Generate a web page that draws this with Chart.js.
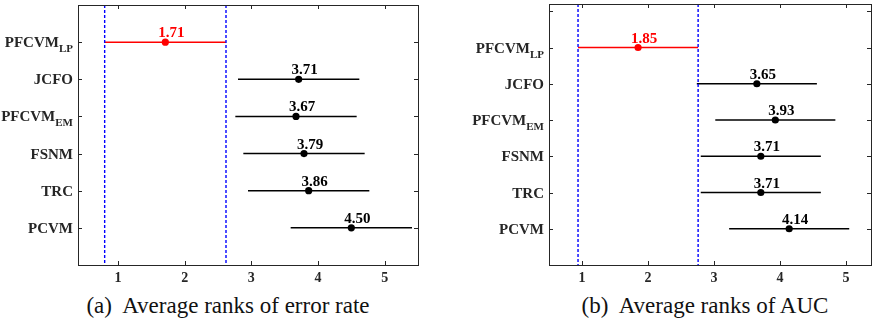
<!DOCTYPE html>
<html>
<head>
<meta charset="utf-8">
<script src="https://cdn.jsdelivr.net/npm/chart.js@4/dist/chart.umd.min.js"></script>
<style>
  body { margin: 0; background: #fff; width: 875px; height: 327px; overflow: hidden; position: relative; }
  canvas { position: absolute; top: 0; }
  .cap { position: absolute; top: 293px; font-family: 'Liberation Serif', serif; font-size: 23px; color: #111; white-space: pre; transform: translateX(-50%); }
</style>
</head>
<body>
<canvas id="errChart" width="437" height="290" style="left:0"></canvas>
<canvas id="aucChart" width="435" height="290" style="left:440px"></canvas>
<div class="cap" style="left:228px">(a)  Average ranks of error rate</div>
<div class="cap" style="left:705px">(b)  Average ranks of AUC</div>
<script>
// methods, top to bottom
const methods = ['PFCVM', 'JCFO', 'PFCVM', 'FSNM', 'TRC', 'PCVM'];
const subs = ['LP', '', 'EM', '', '', ''];
const errorRanks = [1.71, 3.71, 3.67, 3.79, 3.86, 4.50];
const aucRanks = [1.85, 3.65, 3.93, 3.71, 3.71, 4.14];
const criticalDiff = 1.82;
const xTicks = [1, 2, 3, 4, 5];

const serif = "'Liberation Serif', 'Times New Roman', serif";
const axisCol = '#262626';

const deco = {
  id: 'deco',
  afterDraw(chart) {
    const { ctx, chartArea: a, scales: { x, y } } = chart;
    const ranks = chart.options.plugins.deco.ranks;
    ctx.save();
    ctx.strokeStyle = axisCol;
    ctx.lineWidth = 1;
    ctx.strokeRect(a.left + 0.5, a.top + 0.5, a.right - a.left, a.bottom - a.top);
    ctx.beginPath();
    xTicks.forEach(v => {
      const px = Math.round(x.getPixelForValue(v)) + 0.5;
      ctx.moveTo(px, a.bottom); ctx.lineTo(px, a.bottom - 4);
      ctx.moveTo(px, a.top); ctx.lineTo(px, a.top + 4);
    });
    for (let v = Math.ceil(y.min); v <= y.max; v++) {
      const py = Math.round(y.getPixelForValue(v)) + 0.5;
      ctx.moveTo(a.left, py); ctx.lineTo(a.left + 4, py);
      ctx.moveTo(a.right, py); ctx.lineTo(a.right - 4, py);
    }
    ctx.stroke();

    // x tick labels
    ctx.fillStyle = axisCol;
    ctx.font = 'bold 14px ' + serif;
    ctx.textAlign = 'center';
    ctx.textBaseline = 'alphabetic';
    xTicks.forEach(v => ctx.fillText(String(v), x.getPixelForValue(v), a.bottom + 17));

    // method names with subscripts
    methods.forEach((m, i) => {
      const py = y.getPixelForValue(i + 1);
      ctx.fillStyle = axisCol;
      ctx.font = 'bold 11px ' + serif;
      const sw = subs[i] ? ctx.measureText(subs[i]).width : 0;
      const right = a.left - 5;
      if (subs[i]) {
        ctx.textAlign = 'left';
        ctx.fillText(subs[i], right - sw, py + 10);
      }
      ctx.font = 'bold 15px ' + serif;
      ctx.textAlign = 'right';
      ctx.fillText(m, right - sw, py + 5);
    });

    // rank values above the points
    ctx.font = 'bold 15px ' + serif;
    ctx.textAlign = 'center';
    ranks.forEach((r, i) => {
      ctx.fillStyle = i === 0 ? '#ff0000' : '#000';
      ctx.fillText(r.toFixed(2), x.getPixelForValue(r) + 6, y.getPixelForValue(i + 1) - 5);
    });
    ctx.restore();
  }
};

function makePanel(id, ranks, xMin, xMax, yMin, yMax, leftW, pad) {
  const half = criticalDiff / 2;
  const lo = ranks[0] - half, hi = ranks[0] + half;
  const datasets = [];
  [lo, hi].forEach(v => datasets.push({
    data: [{ x: v, y: yMin }, { x: v, y: yMax }],
    showLine: true, borderColor: '#0000ff', borderWidth: 1.4, borderDash: [3, 2], pointRadius: 0
  }));
  ranks.forEach((r, i) => datasets.push({
    data: [{ x: r - half, y: i + 1 }, { x: r + half, y: i + 1 }],
    showLine: true, borderColor: i === 0 ? '#ff0000' : '#000', borderWidth: 1.5, pointRadius: 0
  }));
  datasets.push({
    data: ranks.map((r, i) => ({ x: r, y: i + 1 })),
    pointRadius: 3.6,
    pointBackgroundColor: ranks.map((r, i) => i === 0 ? '#ff0000' : '#000'),
    pointBorderWidth: 0
  });

  new Chart(document.getElementById(id), {
    type: 'scatter',
    data: { datasets },
    options: {
      responsive: false,
      animation: false,
      layout: { padding: pad },
      plugins: { legend: { display: false }, tooltip: { enabled: false }, deco: { ranks } },
      scales: {
        x: {
          type: 'linear', min: xMin, max: xMax,
          afterBuildTicks: s => { s.ticks = xTicks.map(v => ({ value: v })); },
          ticks: { display: false },
          grid: { display: false }, border: { display: false },
          afterFit: s => { s.height = 25; }
        },
        y: {
          type: 'linear', reverse: true, min: yMin, max: yMax,
          ticks: { display: false },
          grid: { display: false }, border: { display: false },
          afterFit: s => { s.width = leftW; }
        }
      }
    },
    plugins: [deco]
  });
}

makePanel('errChart', errorRanks, 0.4, 5.5, 0, 7, 78, { top: 5, right: 19, left: 0, bottom: 0 });
makePanel('aucChart', aucRanks, 0.5, 5.38, -0.2, 7, 109, { top: 4, right: 1, left: 0, bottom: 0 });
</script>
</body>
</html>
